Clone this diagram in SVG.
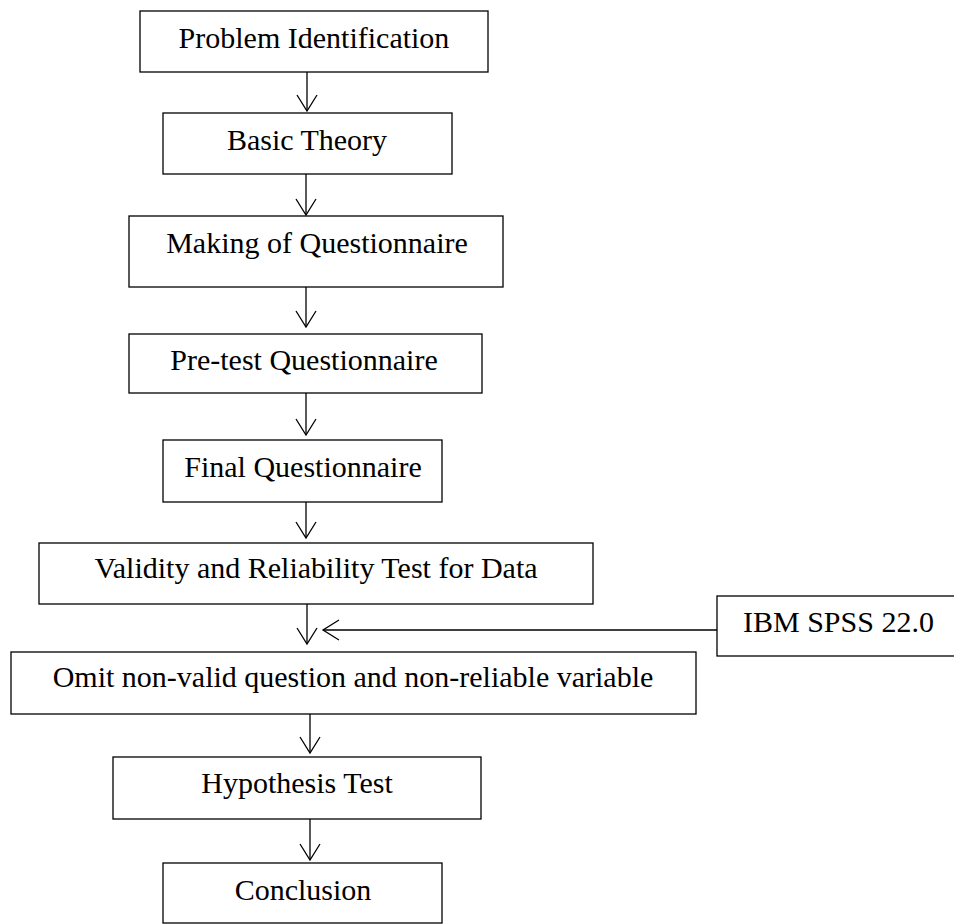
<svg xmlns="http://www.w3.org/2000/svg" width="954" height="924" viewBox="0 0 954 924">
  <style>
    .box { fill: #ffffff; stroke: #000000; stroke-width: 1.3; }
    .lbl { font-family: "Liberation Serif", "Times New Roman", serif; font-size: 30px; fill: #000000; text-anchor: middle; }
    .wire { fill: none; stroke: #000000; stroke-width: 1.3; }
  </style>
  <defs>
    <marker id="open-arrow" markerUnits="userSpaceOnUse" orient="auto" refX="0" refY="0" markerWidth="40" markerHeight="40" overflow="visible">
      <path d="M -16 -10 L 0 0 L -16 10" fill="none" stroke="#000000" stroke-width="1.3"/>
    </marker>
  </defs>
  <rect width="954" height="924" fill="#ffffff"/>

  <g id="connectors">
    <line class="wire" x1="307" y1="72" x2="307" y2="111" marker-end="url(#open-arrow)"/>
    <line class="wire" x1="306" y1="174" x2="306" y2="215" marker-end="url(#open-arrow)"/>
    <line class="wire" x1="306" y1="287" x2="306" y2="327" marker-end="url(#open-arrow)"/>
    <line class="wire" x1="306" y1="393" x2="306" y2="435" marker-end="url(#open-arrow)"/>
    <line class="wire" x1="306" y1="502" x2="306" y2="538" marker-end="url(#open-arrow)"/>
    <line class="wire" x1="307" y1="604" x2="307" y2="644" marker-end="url(#open-arrow)"/>
    <line class="wire" x1="717" y1="630" x2="323" y2="630" marker-end="url(#open-arrow)"/>
    <line class="wire" x1="310" y1="714" x2="310" y2="753" marker-end="url(#open-arrow)"/>
    <line class="wire" x1="310" y1="819" x2="310" y2="860" marker-end="url(#open-arrow)"/>
  </g>

  <g id="problem-identification">
    <rect class="box" x="140" y="11" width="348" height="61"/>
    <text class="lbl" x="314" y="48">Problem Identification</text>
  </g>
  <g id="basic-theory">
    <rect class="box" x="163" y="113" width="289" height="61"/>
    <text class="lbl" x="307" y="150">Basic Theory</text>
  </g>
  <g id="making-of-questionnaire">
    <rect class="box" x="129" y="216" width="374" height="71"/>
    <text class="lbl" x="317" y="253">Making of Questionnaire</text>
  </g>
  <g id="pre-test-questionnaire">
    <rect class="box" x="129" y="334" width="353" height="59"/>
    <text class="lbl" x="304" y="370">Pre-test Questionnaire</text>
  </g>
  <g id="final-questionnaire">
    <rect class="box" x="163" y="440" width="279" height="62"/>
    <text class="lbl" x="303" y="477">Final Questionnaire</text>
  </g>
  <g id="validity-reliability-test">
    <rect class="box" x="39" y="543" width="554" height="61"/>
    <text class="lbl" x="316" y="578">Validity and Reliability Test for Data</text>
  </g>
  <g id="ibm-spss">
    <rect class="box" x="717" y="596" width="240" height="60"/>
    <text class="lbl" x="743" y="632" text-anchor="start" style="text-anchor:start">IBM SPSS 22.0</text>
  </g>
  <g id="omit-non-valid">
    <rect class="box" x="11" y="652" width="685" height="62"/>
    <text class="lbl" x="353" y="687">Omit non-valid question and non-reliable variable</text>
  </g>
  <g id="hypothesis-test">
    <rect class="box" x="113" y="757" width="368" height="62"/>
    <text class="lbl" x="297" y="793">Hypothesis Test</text>
  </g>
  <g id="conclusion">
    <rect class="box" x="163" y="863" width="279" height="60"/>
    <text class="lbl" x="303" y="900">Conclusion</text>
  </g>
</svg>
